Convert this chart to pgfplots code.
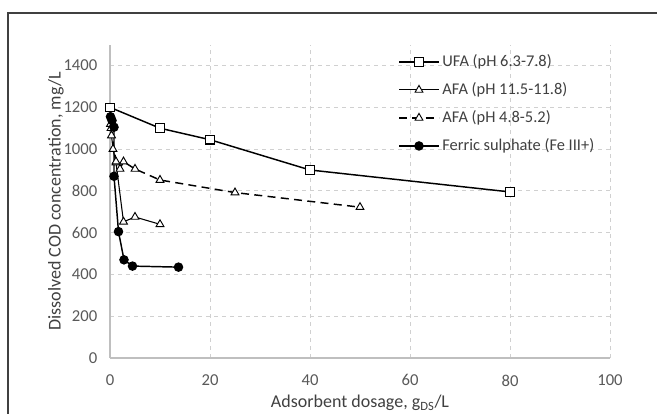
\documentclass[border=0pt]{standalone}
\usepackage{pgfplots}
\pgfplotsset{compat=1.18}
\usepackage{fontspec}
\setmainfont{Carlito}
\definecolor{tickgray}{HTML}{595959}
\definecolor{labgray}{HTML}{404040}
\definecolor{gridgray}{HTML}{D0D0D0}
\definecolor{axgray}{HTML}{BFBFBF}

\begin{document}
\begin{tikzpicture}
\useasboundingbox (0pt,0pt) rectangle (492.75pt,310.5pt);
% chart frame (cut at right and bottom)
\draw[line width=1.2pt, color=black!75] (6pt,-2pt) -- (6pt,300.75pt) -- (495pt,300.75pt);
\begin{axis}[
  at={(82.5pt,42pt)}, anchor=origin,
  scale only axis, width=375pt, height=235pt,
  xmin=0, xmax=100, ymin=0, ymax=1500,
  xtick={0,20,...,100}, ytick={0,200,...,1400},
  axis x line*=bottom, axis y line*=left,
  axis line style={color=axgray, line width=0.8pt, -},
  major tick length=0pt,
  grid=major,
  major grid style={color=gridgray, dashed, line width=0.6pt},
  tick label style={font=\fontsize{12.5}{13}\selectfont, color=tickgray},
  /pgf/number format/assume math mode=true,
  /pgf/number format/1000 sep={},
  xticklabel style={yshift=-9pt},
  yticklabel style={xshift=-6pt},
  xlabel={Adsorbent dosage, g\textsubscript{DS}/L},
  ylabel={Dissolved COD concentration, mg/L},
  label style={font=\fontsize{13.5}{14}\selectfont, color=labgray},
  xlabel style={yshift=0pt},
  ylabel style={yshift=-7pt},
  legend style={at={(rel axis cs:0.568,0.985)}, anchor=north west, draw=none, fill=none,
    font=\fontsize{12.3}{13}\selectfont, text=labgray, row sep=6.5pt,
    /tikz/every even column/.append style={column sep=1pt}},
  legend cell align=left,
  legend image code/.code={
    \draw[#1] (0pt,0pt) -- (30pt,0pt);
    \draw[#1, dash pattern=on 0pt off 0pt] plot coordinates {(15pt,0pt)};
  },
  clip=false,
]
\addplot[black, line width=1.1pt, mark=square*, mark size=3.2pt,
  mark options={fill=white, line width=0.8pt, solid}]
  coordinates {(0,1200) (10,1100) (20,1045) (40,900) (80,795)};
\addlegendentry{UFA (pH 6.3-7.8)}
\addplot[black, line width=0.8pt, mark=triangle*, mark size=3.4pt,
  mark options={fill=white, line width=0.7pt, solid}]
  coordinates {(0.1,1120) (0.3,1065) (0.6,1000) (1.2,935) (2.7,652) (5,675) (10,640)};
\addlegendentry{AFA (pH 11.5-11.8)}
\addplot[black, line width=1.1pt, dash pattern=on 6pt off 4pt, mark=triangle*, mark size=3.4pt,
  mark options={fill=white, line width=0.7pt, solid}]
  coordinates {(0.2,1100) (1.2,940) (2,905) (2.7,940) (5,905) (10,852) (25,792) (50,722)};
\addlegendentry{AFA (pH 4.8-5.2)}
\addplot[black, line width=1.1pt, mark=*, mark size=3pt,
  mark options={fill=black, solid}]
  coordinates {(0.1,1155) (0.4,1137) (0.8,1105) (0.8,870) (1.7,605) (2.8,470) (4.5,440) (13.7,435)};
\addlegendentry{Ferric sulphate (Fe III+)}
\end{axis}
\end{tikzpicture}
\end{document}
